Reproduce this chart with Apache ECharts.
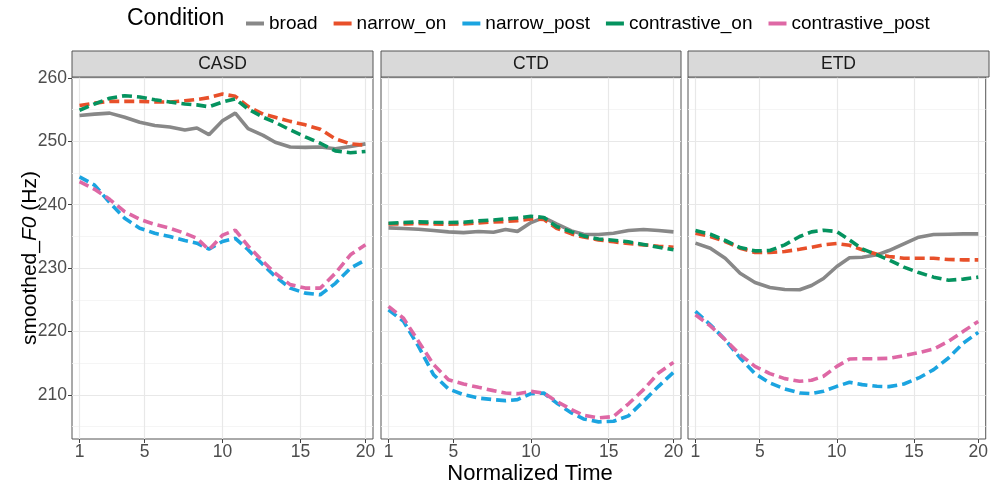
<!DOCTYPE html>
<html><head><meta charset="utf-8">
<script src="https://cdn.jsdelivr.net/npm/echarts@6.0.0/dist/echarts.min.js"></script>
<style>html,body{margin:0;padding:0;background:#fff}#c{width:991px;height:484px}</style>
</head><body><div id="c"></div>
<script>
// ---- data ----
const panels = ['CASD', 'CTD', 'ETD'];
const conditions = ['broad', 'narrow_on', 'narrow_post', 'contrastive_on', 'contrastive_post'];
const timeGrid = [1, 2, 3, 4, 5, 6, 7, 8, 8.8, 9.6, 10.5, 11.35, 12.2, 13.2, 14, 15, 16, 17, 18, 19, 20];
const xTickPos = [1, 5.32, 10.5, 15.68, 20];
const xTickLabels = ['1', '5', '10', '15', '20'];
const yTicks = [210, 220, 230, 240, 250, 260];
const yMinorTicks = [205, 215, 225, 235, 245, 255];

const casd_broad = [254.07,254.3,254.45,253.8,253.0,252.5,252.25,251.8,252.1,251.05,253.25,254.45,252.0,250.95,249.85,249.1,249.05,249.1,248.84,249.2,249.6];
const casd_narrow_on = [255.66,256.03,256.3,256.3,256.3,256.2,256.2,256.4,256.6,256.9,257.45,257.1,255.5,254.3,253.8,253.15,252.6,251.9,250.4,249.6,249.4];
const casd_narrow_post = [244.4,243.1,240.34,237.87,236.3,235.5,234.98,234.35,233.93,233.0,234.2,234.7,232.9,230.52,228.7,226.85,226.06,225.8,227.6,230.0,231.3];
const casd_contrastive_on = [254.9,255.9,256.8,257.2,257.0,256.55,256.2,255.9,255.75,255.45,256.2,256.7,255.1,253.8,253.0,251.8,250.7,249.7,248.5,248.2,248.4];
const casd_contrastive_post = [243.64,242.44,240.86,238.9,237.7,236.9,236.3,235.5,234.7,232.9,235.2,236.0,233.5,231.05,229.2,227.4,226.85,226.85,229.2,232.1,233.7];

const ctd_broad = [236.35,236.25,236.14,235.93,235.72,235.6,235.77,235.67,236.1,235.8,237.19,237.98,236.98,235.88,235.35,235.3,235.51,235.93,236.1,235.93,235.72];
const ctd_narrow_on = [236.98,236.98,237.03,236.98,236.93,236.98,237.14,237.3,237.35,237.5,237.77,237.7,236.3,235.4,234.9,234.46,234.15,233.88,233.67,233.46,233.3];
const ctd_narrow_post = [223.44,221.6,217.66,213.2,210.94,210.05,209.5,209.26,209.1,209.26,210.2,210.3,208.74,207.17,206.22,205.75,205.85,206.7,209.0,211.36,213.57];
const ctd_contrastive_on = [237.09,237.19,237.3,237.24,237.19,237.24,237.45,237.6,237.77,237.9,238.19,238.0,236.56,235.72,235.09,234.6,234.4,234.15,233.73,233.3,232.9];
const ctd_contrastive_post = [223.96,222.1,218.45,214.8,212.4,211.73,211.2,210.68,210.3,210.2,210.57,210.3,209.0,207.7,206.8,206.37,206.6,208.6,210.84,213.46,215.14];

const etd_broad = [233.94,233.15,231.57,229.2,227.74,226.95,226.64,226.59,227.27,228.37,230.26,231.63,231.73,232.1,232.78,233.83,234.88,235.3,235.35,235.4,235.4];
const etd_narrow_on = [235.51,235.0,234.2,233.15,232.47,232.47,232.62,232.99,233.3,233.67,233.88,233.6,232.9,232.2,231.84,231.57,231.57,231.57,231.36,231.31,231.31];
const etd_narrow_post = [223.17,221.07,218.71,215.83,213.36,211.89,210.94,210.31,210.21,210.58,211.36,211.99,211.63,211.36,211.31,211.73,212.68,213.99,215.83,218.19,219.87];
const etd_contrastive_on = [235.93,235.35,234.36,233.25,232.73,232.78,233.67,234.99,235.72,235.98,235.77,234.46,233.04,232.1,231.31,230.16,229.3,228.58,228.1,228.27,228.58];
const etd_contrastive_post = [222.65,220.9,218.71,216.35,214.51,213.36,212.57,212.15,212.31,212.94,214.51,215.67,215.72,215.72,215.77,216.19,216.67,217.24,218.45,220.03,221.6];

const panelData = {
  CASD: [casd_broad, casd_narrow_on, casd_narrow_post, casd_contrastive_on, casd_contrastive_post],
  CTD: [ctd_broad, ctd_narrow_on, ctd_narrow_post, ctd_contrastive_on, ctd_contrastive_post],
  ETD: [etd_broad, etd_narrow_on, etd_narrow_post, etd_contrastive_on, etd_contrastive_post]
};

// ---- styling / layout ----
const colors = ['#888888', '#E8502A', '#1BA4E0', '#05935F', '#DE68A5'];
const dashed = [false, true, true, true, true];
const FONT = '"Liberation Sans", Arial, sans-serif';
const lay = { top: 77, height: 362, lefts: [72, 381, 688], widths: [301, 300, 301], stripH: 26 };
const yMin = 203.05, yMax = 260.15;

const chart = echarts.init(document.getElementById('c'), null, { renderer: 'canvas' });

const grids = [], xAxes = [], yAxes = [], series = [], graphics = [];
panels.forEach((p, i) => {
  grids.push({ left: lay.lefts[i], top: lay.top, width: lay.widths[i], height: lay.height,
    show: true, borderColor: '#555555', borderWidth: 1, backgroundColor: '#fff' });
  xAxes.push({ type: 'value', gridIndex: i, min: 0.5, max: 20.5,
    axisLine: { show: false },
    axisTick: { show: true, length: 4, lineStyle: { color: '#444' }, customValues: xTickPos },
    axisLabel: { customValues: xTickPos, color: '#4d4d4d', fontSize: 17.5, fontFamily: FONT, margin: 4,
      formatter: v => { const k = xTickPos.findIndex(t => Math.abs(t - v) < 1e-6); return k >= 0 ? xTickLabels[k] : ''; } },
    splitLine: { show: true, lineStyle: { color: '#e8e8e8', width: 1.2 } } });
  yAxes.push({ type: 'value', gridIndex: i, min: yMin, max: yMax,
    axisLine: { show: false },
    axisTick: { show: i === 0, length: 4, lineStyle: { color: '#444' }, customValues: yTicks },
    axisLabel: { show: i === 0, customValues: yTicks, color: '#4d4d4d', fontSize: 17.5, fontFamily: FONT, margin: 5 },
    splitLine: { show: true, lineStyle: { color: '#e8e8e8', width: 1.2 } } });
  graphics.push({ type: 'rect', shape: { x: lay.lefts[i], y: lay.top - lay.stripH, width: lay.widths[i], height: lay.stripH },
    style: { fill: '#d9d9d9', stroke: '#555555', lineWidth: 1 }, z: 10 });
  graphics.push({ type: 'text', x: lay.lefts[i] + lay.widths[i] / 2, y: lay.top - lay.stripH / 2,
    style: { text: p, fill: '#1a1a1a', font: '17.5px ' + FONT, textAlign: 'center', textVerticalAlign: 'middle' }, z: 11 });
});
panels.forEach((p, i) => {
  yAxes.push({ type: 'value', gridIndex: i, min: yMin, max: yMax,
    axisLine: { show: false }, axisTick: { show: false, customValues: yMinorTicks },
    axisLabel: { show: false, customValues: yMinorTicks },
    splitLine: { show: true, lineStyle: { color: '#f2f2f2', width: 0.8 } } });
});
panels.forEach((p, i) => {
  conditions.forEach((c, j) => {
    series.push({ type: 'line', name: c, xAxisIndex: i, yAxisIndex: i,
      data: timeGrid.map((t, k) => [t, panelData[p][j][k]]),
      showSymbol: false, symbol: 'none', color: colors[j],
      lineStyle: { width: 3.6, color: colors[j], type: dashed[j] ? [10, 5] : 'solid', cap: 'butt' },
      z: 3 + j, animation: false });
  });
});

graphics.push({ type: 'text', x: 127, y: 19,
  style: { text: 'Condition', fill: '#000', font: '23px ' + FONT, textVerticalAlign: 'middle' } });
graphics.push({ type: 'text', x: 530, y: 474,
  style: { text: 'Normalized Time', fill: '#000', font: '22px ' + FONT, textAlign: 'center', textVerticalAlign: 'middle' } });
graphics.push({ type: 'text', x: 30, y: lay.top + lay.height / 2, rotation: Math.PI / 2,
  style: { rich: { n: { fontSize: 21, fontFamily: FONT, fill: '#000' }, it: { fontSize: 21, fontFamily: FONT, fontStyle: 'italic', fill: '#000' } },
    text: '{n|smoothed_}{it|F0}{n| (Hz)}', textAlign: 'center', textVerticalAlign: 'middle' } });

chart.setOption({
  animation: false,
  backgroundColor: '#fff',
  grid: grids, xAxis: xAxes, yAxis: yAxes, series: series,
  legend: { data: conditions.map(c => ({ name: c, icon: 'rect' })), left: 241, top: 9,
    itemWidth: 18, itemHeight: 4, itemGap: 16, selectedMode: false,
    textStyle: { fontSize: 19, fontFamily: FONT, color: '#000' } },
  graphic: graphics
});
</script></body></html>
